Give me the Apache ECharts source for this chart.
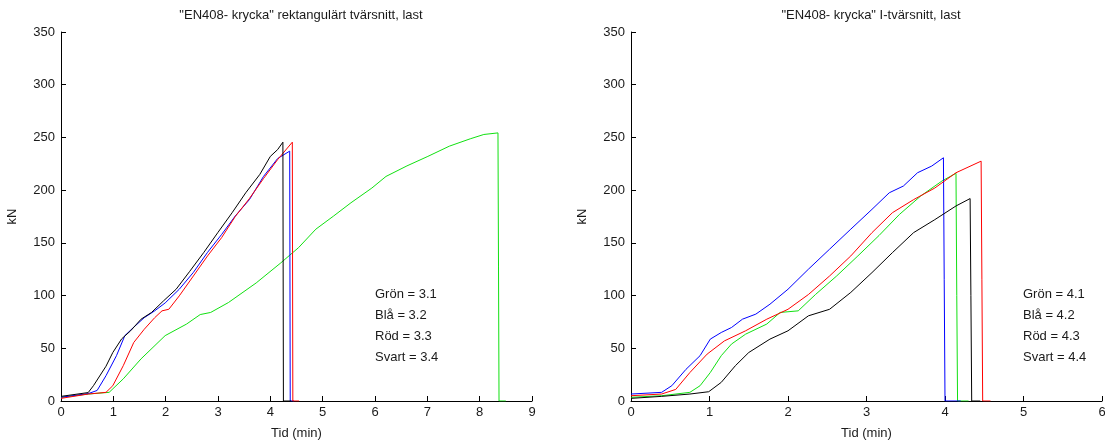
<!DOCTYPE html>
<html>
<head>
<meta charset="utf-8">
<script src="https://cdn.jsdelivr.net/npm/echarts@6/dist/echarts.min.js"></script>
<style>
  html, body { margin: 0; padding: 0; background: #fff; }
  #main { width: 1105px; height: 442px; }
</style>
</head>
<body>
<div id="main"></div>
<script>
// vänster: rektangulärt tvärsnitt (3.x), [tid, kN]
var gron3 = [[0,3.5],[0.52,6.6],[0.92,8.2],[1.19,21],[1.53,40],[1.99,62],[2.4,73],[2.66,82],[2.86,84],[3.2,93.4],[3.73,112],[4.2,131],[4.54,145.5],[4.87,163],[5.21,175.5],[5.54,188],[5.94,202],[6.21,213],[6.61,223],[7.01,232],[7.42,241.7],[7.82,248.7],[8.08,252.8],[8.35,254.3],[8.36,128],[8.37,0],[8.5,0]];
var bla3 = [[0,3.5],[0.52,7],[0.69,10],[0.86,24],[1.06,43],[1.22,62],[1.39,70],[1.59,79],[1.79,85.5],[1.99,93],[2.26,106],[2.53,122],[2.8,141],[3.07,158],[3.33,175.5],[3.6,191],[3.87,213],[4.14,230],[4.37,237],[4.38,0],[4.45,0]];
var rod3 = [[0,2.5],[0.52,6.6],[0.86,8.2],[0.99,14.5],[1.19,33.5],[1.39,55.5],[1.59,68],[1.79,79],[1.93,85.5],[2.06,87],[2.26,99.7],[2.53,118.6],[2.8,137.6],[3.07,155],[3.33,175],[3.6,192],[3.87,211],[4.14,229],[4.42,245.5],[4.43,0],[4.55,0]];
var svart3 = [[0,4.4],[0.52,8],[0.62,14.5],[0.86,33],[0.99,46],[1.16,59],[1.33,66.6],[1.53,77.6],[1.73,84],[1.96,95],[2.2,106],[2.46,123],[2.73,141],[3.0,160],[3.27,178.6],[3.53,197.5],[3.8,215],[4.0,232],[4.14,238.5],[4.24,245.5],[4.25,0],[4.4,0]];

// höger: I-tvärsnitt (4.x)
var gron4 = [[0,3.5],[0.39,5],[0.75,8.2],[0.88,14.5],[1.01,27],[1.15,43],[1.28,54],[1.46,63.4],[1.73,73],[1.9,84],[2.13,85.5],[2.35,101],[2.62,118.6],[2.89,137.6],[3.16,157],[3.42,177],[3.69,194.4],[3.96,208.6],[4.14,216],[4.15,100],[4.16,0],[4.3,0]];
var bla4 = [[0,6.6],[0.39,8.2],[0.52,14.5],[0.7,30],[0.88,43],[1.01,58.7],[1.15,65],[1.28,69.7],[1.42,77.6],[1.59,82.4],[1.77,91.8],[2.0,106],[2.26,125],[2.53,144],[2.8,163],[3.07,181.8],[3.29,197.5],[3.47,203.9],[3.65,216.5],[3.83,222.8],[3.98,230.7],[3.99,115],[4.0,0],[4.2,0]];
var rod4 = [[0,5],[0.39,6.6],[0.57,11],[0.75,27],[0.97,44.5],[1.19,57],[1.46,66.6],[1.73,77.6],[2.0,87],[2.26,101],[2.53,118.6],[2.8,137.6],[3.07,159.7],[3.33,178.6],[3.6,191],[3.87,202],[4.14,216.5],[4.46,227.5],[4.47,115],[4.48,0],[4.58,0]];
var svart4 = [[0,2.5],[0.39,4.4],[0.75,6.6],[0.99,8.8],[1.15,17.7],[1.33,33.5],[1.5,46],[1.77,58.7],[2.0,66.6],[2.26,80.8],[2.53,87],[2.8,103],[3.07,121.8],[3.33,140.7],[3.6,159.7],[3.87,172],[4.14,185],[4.32,192],[4.33,100],[4.34,0],[4.45,0]];

var titlar = ['"EN408- krycka" rektangulärt tvärsnitt, last', '"EN408- krycka" I-tvärsnitt, last'];
var etiketter3 = ['Grön = 3.1', 'Blå = 3.2', 'Röd = 3.3', 'Svart = 3.4'];
var etiketter4 = ['Grön = 4.1', 'Blå = 4.2', 'Röd = 4.3', 'Svart = 4.4'];

var font = 'Liberation Sans, Arial, sans-serif';
var txt = '#1a1a1a';

function xaxel(i, max){
	return {
		type: 'value', gridIndex: i, min: 0, max: max, interval: 1,
		name: 'Tid (min)', nameLocation: 'middle', nameGap: 26,
		nameTextStyle: { color: txt, fontSize: 13, fontFamily: font },
		axisLine: { lineStyle: { color: '#000', width: 1 } },
		axisTick: { inside: true, length: 5, lineStyle: { color: '#000' } },
		axisLabel: { color: txt, fontSize: 13, fontFamily: font, margin: 5 },
		splitLine: { show: false }
	};
}
function yaxel(i){
	return {
		type: 'value', gridIndex: i, min: 0, max: 350, interval: 50,
		name: 'kN', nameLocation: 'middle', nameGap: 42,
		nameTextStyle: { color: txt, fontSize: 13, fontFamily: font },
		axisLine: { show: true, lineStyle: { color: '#000', width: 1 } },
		axisTick: { show: true, inside: true, length: 5, lineStyle: { color: '#000' } },
		axisLabel: { color: txt, fontSize: 13, fontFamily: font, margin: 6 },
		splitLine: { show: false }
	};
}
function serie(data, color, i){
	return {
		type: 'line', data: data, xAxisIndex: i, yAxisIndex: i,
		showSymbol: false, symbol: 'none', animation: false,
		lineStyle: { color: color, width: 1 }
	};
}
function etikett(rader, left){
	var out = [];
	for(var i=0;i<rader.length;i++){
		out.push({
			type: 'text', left: left, top: 288 + i*21,
			style: { text: rader[i], fill: txt, font: '13px ' + font }
		});
	}
	return out;
}

var chart = echarts.init(document.getElementById('main'));
var option = {
	backgroundColor: '#fff',
	animation: false,
	title: [
		{ text: titlar[0], left: 296, top: 4, textAlign: 'center', textStyle: { color: txt, fontSize: 13, fontWeight: 'normal', fontFamily: font } },
		{ text: titlar[1], left: 866, top: 4, textAlign: 'center', textStyle: { color: txt, fontSize: 13, fontWeight: 'normal', fontFamily: font } }
	],
	grid: [
		{ left: 61, top: 32, width: 471, height: 369, containLabel: false, outerBoundsMode: 'none' },
		{ left: 631, top: 32, width: 471, height: 369, containLabel: false, outerBoundsMode: 'none' }
	],
	xAxis: [xaxel(0, 9), xaxel(1, 6)],
	yAxis: [yaxel(0), yaxel(1)],
	series: [
		serie(gron3, '#11e011', 0),
		serie(bla3, '#0000ff', 0),
		serie(rod3, '#ff0000', 0),
		serie(svart3, '#000000', 0),
		serie(gron4, '#11e011', 1),
		serie(bla4, '#0000ff', 1),
		serie(rod4, '#ff0000', 1),
		serie(svart4, '#000000', 1)
	],
	graphic: etikett(etiketter3, 375).concat(etikett(etiketter4, 1023))
};
chart.setOption(option);
</script>
</body>
</html>
